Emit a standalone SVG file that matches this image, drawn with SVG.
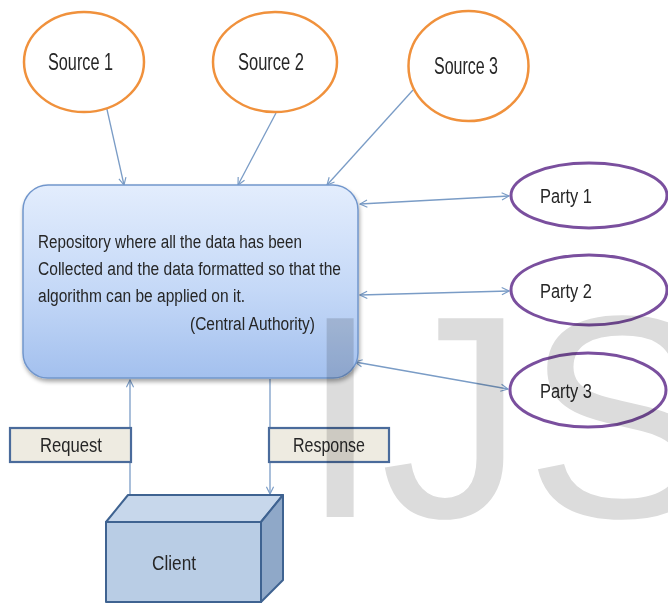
<svg xmlns="http://www.w3.org/2000/svg" width="668" height="603" viewBox="0 0 668 603">
  <defs>
    <linearGradient id="repoFill" x1="0" y1="0" x2="0" y2="1">
      <stop offset="0" stop-color="#e3edfd"/>
      <stop offset="0.55" stop-color="#c4d8f7"/>
      <stop offset="1" stop-color="#a3c0ee"/>
    </linearGradient>
    <filter id="shadow" x="-10%" y="-10%" width="125%" height="130%">
      <feGaussianBlur in="SourceAlpha" stdDeviation="2"/>
      <feOffset dx="1" dy="3" result="b"/>
      <feComponentTransfer><feFuncA type="linear" slope="0.35"/></feComponentTransfer>
      <feMerge><feMergeNode/><feMergeNode in="SourceGraphic"/></feMerge>
    </filter>
    <marker id="head" viewBox="0 0 10 10" refX="9" refY="5" markerWidth="9" markerHeight="9" markerUnits="userSpaceOnUse" orient="auto-start-reverse">
      <path d="M1,1 L9,5 L1,9" fill="none" stroke="#7a9cc6" stroke-width="1.3"/>
    </marker>
  </defs>
  <style>
    text { font-family: "Liberation Sans", Arial, sans-serif; fill: #262626; }
    .src { fill: #ffffff; stroke: #f0913c; stroke-width: 2.5; }
    .party { fill: #ffffff; stroke: #7a4f9e; stroke-width: 3; }
    .lbl { font-size: 23.5px; }
    .plbl { font-size: 19.5px; }
    .body { font-size: 18px; }
    .tag { fill: #eeebe1; stroke: #4a6b9b; stroke-width: 2.2; }
    .conn { stroke: #7a9cc6; stroke-width: 1.3; fill: none; }
    .cube { stroke: #3f6391; stroke-width: 2; stroke-linejoin: round; }
    .mark { font-size: 289px; fill: #dcdcdc; mix-blend-mode: multiply; }
  </style>

  <rect width="668" height="603" fill="#ffffff"/>

  <!-- connectors -->
  <g id="connectors">
    <line class="conn" x1="106" y1="105" x2="124" y2="185" marker-end="url(#head)"/>
    <line class="conn" x1="276" y1="113" x2="238" y2="185" marker-end="url(#head)"/>
    <line class="conn" x1="413" y1="90" x2="327" y2="185" marker-end="url(#head)"/>
    <line class="conn" x1="360" y1="204" x2="509" y2="196" marker-start="url(#head)" marker-end="url(#head)"/>
    <line class="conn" x1="360" y1="295" x2="509" y2="291" marker-start="url(#head)" marker-end="url(#head)"/>
    <line class="conn" x1="355" y1="362" x2="508" y2="389" marker-start="url(#head)" marker-end="url(#head)"/>
    <line class="conn" x1="130" y1="495" x2="130" y2="380" marker-end="url(#head)"/>
    <line class="conn" x1="270" y1="379" x2="270" y2="494" marker-end="url(#head)"/>
  </g>

  <!-- data sources -->
  <g id="source1">
    <ellipse class="src" cx="84" cy="62" rx="60" ry="50"/>
    <text class="lbl" x="48" y="70" textLength="65" lengthAdjust="spacingAndGlyphs">Source 1</text>
  </g>
  <g id="source2">
    <ellipse class="src" cx="275" cy="62" rx="62" ry="50"/>
    <text class="lbl" x="238" y="70" textLength="66" lengthAdjust="spacingAndGlyphs">Source 2</text>
  </g>
  <g id="source3">
    <ellipse class="src" cx="468.5" cy="66" rx="60" ry="55"/>
    <text class="lbl" x="434" y="74" textLength="64" lengthAdjust="spacingAndGlyphs">Source 3</text>
  </g>

  <!-- central repository -->
  <g id="repository">
    <rect x="23" y="185" width="335" height="193" rx="25" ry="25" fill="url(#repoFill)" stroke="#7196cc" stroke-width="1.5" filter="url(#shadow)"/>
    <text class="body" x="38" y="248" textLength="264" lengthAdjust="spacingAndGlyphs">Repository where all the data has been</text>
    <text class="body" x="38" y="275" textLength="303" lengthAdjust="spacingAndGlyphs">Collected and the data formatted so that the</text>
    <text class="body" x="38" y="302" textLength="207" lengthAdjust="spacingAndGlyphs">algorithm can be applied on it.</text>
    <text class="body" x="190" y="330" textLength="125" lengthAdjust="spacingAndGlyphs">(Central Authority)</text>
  </g>

  <!-- parties -->
  <g id="party1">
    <ellipse class="party" cx="589" cy="195.5" rx="78" ry="32.5"/>
    <text class="plbl" x="540" y="203" textLength="52" lengthAdjust="spacingAndGlyphs">Party 1</text>
  </g>
  <g id="party2">
    <ellipse class="party" cx="589" cy="290" rx="78" ry="35"/>
    <text class="plbl" x="540" y="298" textLength="52" lengthAdjust="spacingAndGlyphs">Party 2</text>
  </g>
  <g id="party3">
    <ellipse class="party" cx="588" cy="390" rx="78" ry="37"/>
    <text class="plbl" x="540" y="398" textLength="52" lengthAdjust="spacingAndGlyphs">Party 3</text>
  </g>

  <!-- request / response labels -->
  <g id="request">
    <rect class="tag" x="10" y="428" width="121" height="34"/>
    <text class="plbl" x="40" y="452" textLength="62" lengthAdjust="spacingAndGlyphs">Request</text>
  </g>
  <g id="response">
    <rect class="tag" x="269" y="428" width="120" height="34"/>
    <text class="plbl" x="293" y="452" textLength="72" lengthAdjust="spacingAndGlyphs">Response</text>
  </g>

  <!-- client cube -->
  <g id="client">
    <polygon class="cube" points="106,522 128,495 283,495 261,522" fill="#c7d7eb"/>
    <polygon class="cube" points="261,522 283,495 283,580 261,602" fill="#8fa8c8"/>
    <rect class="cube" x="106" y="522" width="155" height="80" fill="#b9cde5"/>
    <text class="plbl" x="152" y="570" font-size="20" textLength="44" lengthAdjust="spacingAndGlyphs">Client</text>
  </g>

  <!-- publisher watermark -->
  <text class="mark" x="300" y="517">IJS</text>
</svg>
